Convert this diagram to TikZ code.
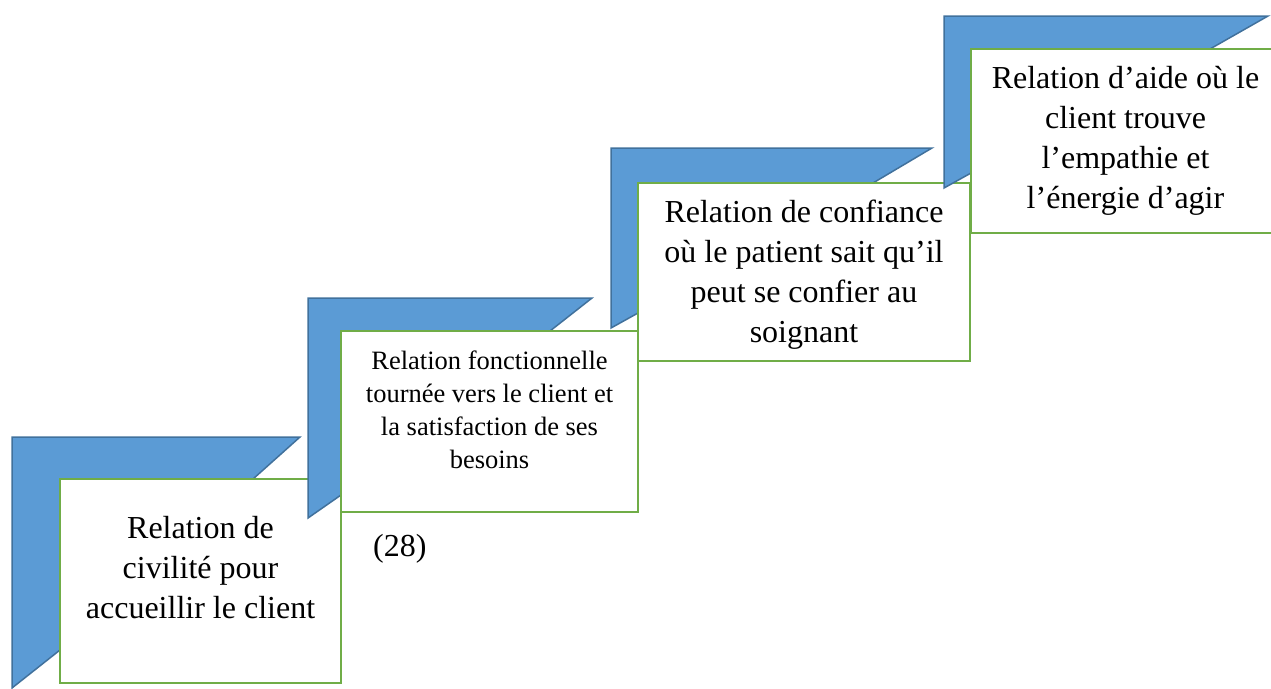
\documentclass[tikz,border=0pt]{standalone}
\usepackage{fontspec}
\setmainfont{Liberation Serif}
\definecolor{chevronblue}{HTML}{5B9BD5}
\definecolor{chevronedge}{HTML}{41719C}
\definecolor{boxgreen}{HTML}{70AD47}

\begin{document}
\begin{tikzpicture}[x=1pt, y=-1pt,
  chevron/.style={fill=chevronblue, draw=chevronedge, line width=1.5pt, line join=miter},
  stepbox/.style={draw=boxgreen, fill=white, line width=2pt, inner sep=0pt},
  steptext/.style={align=center, inner sep=0pt, font=\fontsize{32}{40}\selectfont},
  smalltext/.style={align=center, inner sep=0pt, font=\fontsize{26.5}{33}\selectfont}]
\useasboundingbox (0,0) rectangle (1271,688);
\clip (0,0) rectangle (1271,688);
% step 1
\filldraw[chevron] (12,437) -- (300,437) -- (253,479) -- (60,479) -- (60,650) -- (12,688) -- cycle;
\node[stepbox, minimum width=281pt, minimum height=204pt] (box1) at (200.5,581) {};
\node[steptext, yshift=13pt] (civ) at (box1.center) {Relation de\\civilité pour\\accueillir le client};
% step 2
\filldraw[chevron] (308,298) -- (592,298) -- (550,331) -- (341,331) -- (341,495) -- (308,518) -- cycle;
\node[stepbox, minimum width=297pt, minimum height=181pt] (box2) at (489.5,421.5) {};
\node[smalltext, yshift=12pt] (fonc) at (box2.center) {Relation fonctionnelle\\tournée vers le client et\\la satisfaction de ses\\besoins};
\node[steptext, anchor=base west] (ref) at (373,556) {(28)};
% step 3
\filldraw[chevron] (611,148) -- (932,148) -- (873,183) -- (638,183) -- (638,313) -- (611,328) -- cycle;
\node[stepbox, minimum width=332pt, minimum height=178pt] (box3) at (804,272) {};
\node[steptext, yshift=-2.5pt] (conf) at (box3.center) {Relation de confiance\\où le patient sait qu’il\\peut se confier au\\soignant};
% step 4
\filldraw[chevron] (944,16) -- (1268,16) -- (1210,49) -- (971,49) -- (971,173) -- (944,188) -- cycle;
\node[stepbox, minimum width=314pt, minimum height=184pt] (box4) at (1128,141) {};
\node[steptext, xshift=-2.5pt] (aide) at (box4.center) {Relation d’aide où le\\client trouve\\l’empathie et\\l’énergie d’agir};
\end{tikzpicture}
\end{document}
